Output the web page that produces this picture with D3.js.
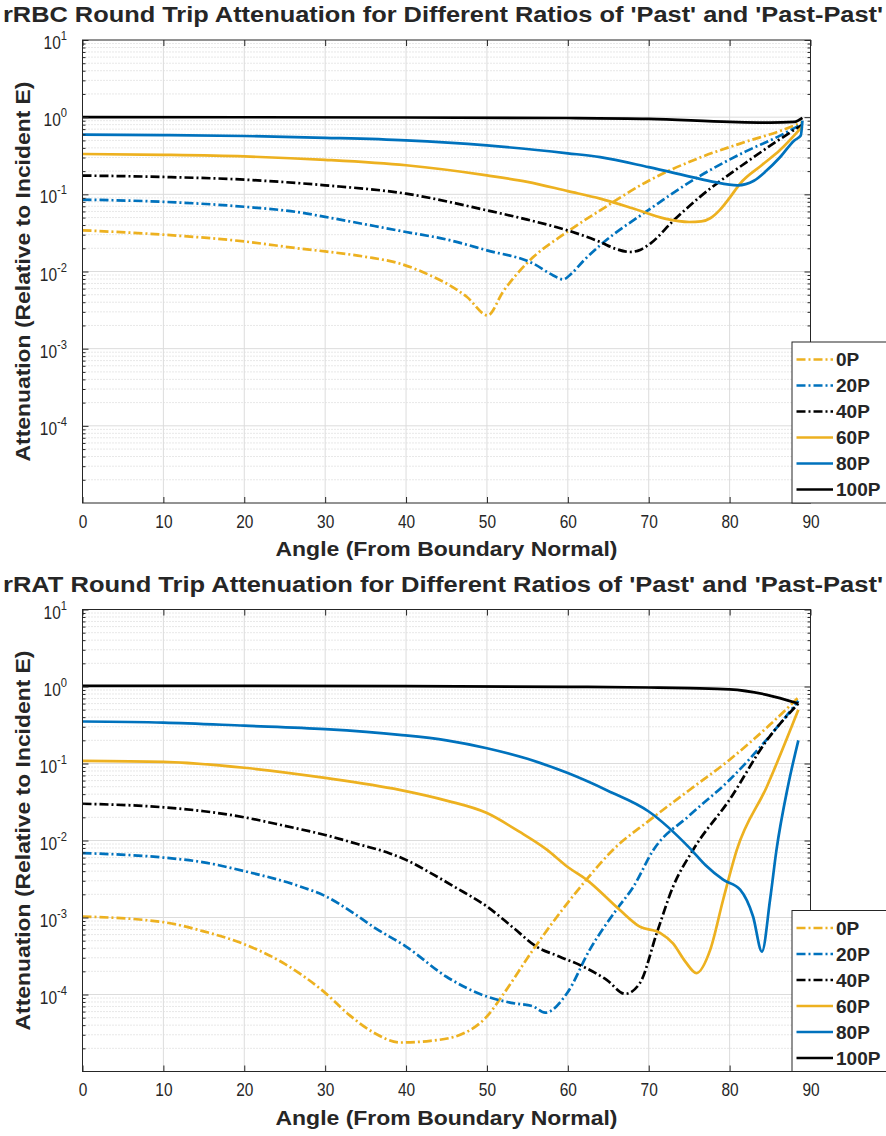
<!DOCTYPE html>
<html>
<head>
<meta charset="utf-8">
<script src="https://cdn.jsdelivr.net/npm/d3@7"></script>
<style>
  body { margin: 0; background: #fff; }
  svg { display: block; }
  text { font-family: "Liberation Sans", Arial, Helvetica, sans-serif; fill: #262626; }
</style>
</head>
<body>
<svg id="chart" width="886" height="1136"></svg>
<script>
// ---- series definitions ----
const seriesNames  = ["0P", "20P", "40P", "60P", "80P", "100P"];
const seriesColors = ["#EDB120", "#0072BD", "#000000", "#EDB120", "#0072BD", "#000000"];
const seriesDashed = [true, true, true, false, false, false];

// ---- axis ticks ----
const xTicks = [0, 10, 20, 30, 40, 50, 60, 70, 80, 90];
const yTickExponents = [1, 0, -1, -2, -3, -4];

// ---- rRBC round trip attenuation (angle in degrees, attenuation) ----
const rbcAngle0P   = [0, 10, 20, 26.9, 30, 35, 39.2, 43.4, 45, 47.5, 50.1, 52, 54.9, 60, 64, 70, 76, 82, 86, 89];
const rbcValue0P   = [0.0342, 0.0300, 0.0245, 0.0198, 0.0182, 0.0155, 0.0127, 0.0085, 0.0070, 0.0047, 0.0027, 0.0055, 0.0127, 0.033, 0.062, 0.15, 0.29, 0.48, 0.65, 0.86];
const rbcAngle20P  = [0, 10, 20, 27, 30, 40, 45, 50, 55.7, 58.2, 59.4, 60.5, 62, 64, 70, 76, 82, 86, 89];
const rbcValue20P  = [0.0853, 0.080, 0.069, 0.058, 0.051, 0.0325, 0.026, 0.0188, 0.0127, 0.0089, 0.0079, 0.0095, 0.0140, 0.0219, 0.063, 0.165, 0.36, 0.56, 0.82];
const rbcAngle40P  = [0, 10, 20, 30, 40, 50, 55, 60, 64, 66, 67.7, 69, 70.2, 73, 76.3, 82.4, 86, 89];
const rbcValue40P  = [0.175, 0.168, 0.155, 0.131, 0.102, 0.062, 0.047, 0.034, 0.0241, 0.0195, 0.0179, 0.0192, 0.023, 0.045, 0.092, 0.275, 0.5, 0.8];
const rbcAngle60P  = [0, 10, 20, 30, 40, 50, 55, 60, 64, 68, 72, 75, 76.5, 77.6, 78.8, 80, 81.3, 84, 86.2, 89];
const rbcValue60P  = [0.333, 0.325, 0.31, 0.28, 0.238, 0.176, 0.145, 0.11, 0.088, 0.066, 0.0484, 0.0438, 0.0445, 0.049, 0.063, 0.09, 0.138, 0.24, 0.372, 0.76];
const rbcAngle80P  = [0, 10, 20, 30, 40, 50, 60, 64, 70, 75.5, 78, 81, 83, 84.5, 86.2, 88, 88.8, 89];
const rbcValue80P  = [0.593, 0.585, 0.57, 0.54, 0.50, 0.43, 0.34, 0.304, 0.225, 0.166, 0.145, 0.131, 0.15, 0.2, 0.3, 0.5, 0.58, 0.9];
const rbcAngle100P = [0, 20, 40, 60, 70, 80, 85, 88, 89];
const rbcValue100P = [1.0, 0.998, 0.99, 0.975, 0.95, 0.87, 0.85, 0.87, 0.98];

// ---- rRAT round trip attenuation (angle in degrees, attenuation) ----
const ratAngle0P   = [0, 10, 15, 20, 25, 30, 33, 36, 39.3, 43, 46.7, 50, 52, 55.7, 59, 62.3, 65.6, 70, 75, 80, 85, 88.5];
const ratValue0P   = [1.03e-3, 8.7e-4, 6.6e-4, 4.5e-4, 2.5e-4, 1.05e-4, 5.4e-5, 3.2e-5, 2.38e-5, 2.5e-5, 3.0e-5, 5.2e-5, 1.0e-4, 3.8e-4, 1.14e-3, 3.1e-3, 7.6e-3, 0.018, 0.045, 0.112, 0.32, 0.72];
const ratAngle20P  = [0, 10, 15, 20, 26.9, 30, 33.5, 36, 40, 45, 50, 53, 55.7, 57.2, 59.9, 62.7, 66, 68.1, 70.6, 75, 80, 85, 88.5];
const ratValue20P  = [6.86e-3, 6.0e-3, 5.2e-3, 4.0e-3, 2.53e-3, 1.9e-3, 1.14e-3, 7.5e-4, 4.2e-4, 1.7e-4, 9.4e-5, 7.8e-5, 7.0e-5, 5.8e-5, 1.04e-4, 3.8e-4, 1.26e-3, 2.5e-3, 7.6e-3, 0.021, 0.0614, 0.23, 0.65];
const ratAngle40P  = [0, 10, 15, 20, 25, 30, 34, 38, 40, 43.4, 46, 50, 53.3, 56.1, 59, 61.9, 64.8, 67.1, 68.9, 71, 73, 75.5, 80, 84.6, 88.5];
const ratValue40P  = [0.030, 0.027, 0.024, 0.020, 0.0155, 0.0118, 9.0e-3, 6.8e-3, 5.6e-3, 3.6e-3, 2.5e-3, 1.39e-3, 7.3e-4, 4.2e-4, 3.1e-4, 2.3e-4, 1.55e-4, 1.02e-4, 1.4e-4, 6.3e-4, 2.5e-3, 7.6e-3, 0.034, 0.2, 0.6];
const ratAngle60P  = [0, 10, 20, 30, 39.2, 45, 50, 54, 57.4, 59.9, 62.3, 66.4, 68.9, 71.4, 73, 74.5, 75.9, 77.6, 79.2, 80.9, 84.6, 88.5];
const ratValue60P  = [0.108, 0.105, 0.088, 0.065, 0.0455, 0.033, 0.0227, 0.013, 7.6e-3, 4.6e-3, 3.1e-3, 1.26e-3, 7.6e-4, 6.3e-4, 4.6e-4, 2.7e-4, 1.9e-4, 3.8e-4, 1.7e-3, 7.6e-3, 0.05, 0.5];
const ratAngle80P  = [0, 10, 20, 30, 39.2, 45, 50, 55, 60, 65, 70, 75.1, 77, 79.2, 81.3, 82.9, 84, 85, 85.8, 87.2, 88.5];
const ratValue80P  = [0.351, 0.34, 0.31, 0.28, 0.236, 0.2, 0.158, 0.115, 0.075, 0.044, 0.0238, 7.9e-3, 4.8e-3, 3.1e-3, 2.3e-3, 1.03e-3, 3.6e-4, 1.7e-3, 7.6e-3, 0.05, 0.2];
const ratAngle100P = [0, 20, 40, 60, 70, 75, 80, 84.6, 88.5];
const ratValue100P = [1.02, 1.02, 1.01, 0.99, 0.97, 0.95, 0.92, 0.78, 0.6];

// ---- titles ----
const rbcTitle = "rRBC Round Trip Attenuation for Different Ratios of 'Past' and 'Past-Past'";
const ratTitle = "rRAT Round Trip Attenuation for Different Ratios of 'Past' and 'Past-Past'";
const xLabel = "Angle (From Boundary Normal)";
const yLabel = "Attenuation (Relative to Incident E)";

const zip = (a, v) => a.map((d, i) => [d, v[i]]);
const rbcSeries = [
  zip(rbcAngle0P, rbcValue0P), zip(rbcAngle20P, rbcValue20P), zip(rbcAngle40P, rbcValue40P),
  zip(rbcAngle60P, rbcValue60P), zip(rbcAngle80P, rbcValue80P), zip(rbcAngle100P, rbcValue100P)
];
const ratSeries = [
  zip(ratAngle0P, ratValue0P), zip(ratAngle20P, ratValue20P), zip(ratAngle40P, ratValue40P),
  zip(ratAngle60P, ratValue60P), zip(ratAngle80P, ratValue80P), zip(ratAngle100P, ratValue100P)
];

const svg = d3.select("#chart");
const AX_LEFT = 82.5, AX_RIGHT = 810.5;
const DASH = "9,3,2,3";
const LINE_W = 2.7;
const NARROW = 0.86;   // horizontal squeeze for tick labels

function drawPanel(id, title, series, top, bottom) {
  const g = svg.append("g").attr("id", id);
  const x = d3.scaleLinear().domain([0, 90]).range([AX_LEFT, AX_RIGHT]);
  const y = d3.scaleLog().domain([1e-5, 10]).range([bottom, top]);

  // minor log values (2..9 x each decade)
  const minor = [];
  for (let k = -5; k <= 0; k++) for (let m = 2; m <= 9; m++) minor.push(m * Math.pow(10, k));
  const major = yTickExponents.map(e => Math.pow(10, e));

  // grid
  const grid = g.append("g");
  grid.selectAll(".ymin").data(minor).join("line")
    .attr("x1", AX_LEFT).attr("x2", AX_RIGHT)
    .attr("y1", d => y(d)).attr("y2", d => y(d))
    .attr("stroke", "#d0d0d0").attr("stroke-width", 1).attr("stroke-dasharray", "1,2");
  grid.selectAll(".ymaj").data(major.filter(v => v < 10)).join("line")
    .attr("x1", AX_LEFT).attr("x2", AX_RIGHT)
    .attr("y1", d => y(d)).attr("y2", d => y(d))
    .attr("stroke", "#dcdcdc").attr("stroke-width", 1);
  grid.selectAll(".xmaj").data(xTicks.filter(v => v > 0 && v < 90)).join("line")
    .attr("y1", top).attr("y2", bottom)
    .attr("x1", d => x(d)).attr("x2", d => x(d))
    .attr("stroke", "#dcdcdc").attr("stroke-width", 1);

  // curves
  const clipId = id + "-clip";
  g.append("clipPath").attr("id", clipId).append("rect")
    .attr("x", AX_LEFT).attr("y", top).attr("width", AX_RIGHT - AX_LEFT).attr("height", bottom - top);
  const line = d3.line().x(d => x(d[0])).y(d => y(d[1])).curve(d3.curveMonotoneX);
  const curves = g.append("g").attr("clip-path", `url(#${clipId})`);
  series.forEach((s, i) => {
    curves.append("path").datum(s)
      .attr("d", line)
      .attr("fill", "none")
      .attr("stroke", seriesColors[i])
      .attr("stroke-width", LINE_W)
      .attr("stroke-linejoin", "round")
      .attr("stroke-dasharray", seriesDashed[i] ? DASH : null);
  });

  // axes (ticks point inward, box style)
  const axisStyle = sel => {
    sel.select(".domain").remove();
    sel.selectAll(".tick line").attr("stroke", "#262626");
  };
  const xb = g.append("g").attr("transform", `translate(0,${bottom})`)
    .call(d3.axisBottom(x).tickValues(xTicks).tickSizeInner(-6).tickSizeOuter(0).tickPadding(12).tickFormat(d3.format("d")));
  axisStyle(xb);
  xb.selectAll(".tick text").attr("font-size", 18).attr("fill", "#262626")
    .attr("transform", `scale(${NARROW},1)`)
    .style("font-family", "'Liberation Sans', Arial, sans-serif");
  const xt = g.append("g").attr("transform", `translate(0,${top})`)
    .call(d3.axisTop(x).tickValues(xTicks).tickSizeInner(-6).tickSizeOuter(0).tickFormat(""));
  axisStyle(xt);

  const yl = g.append("g").attr("transform", `translate(${AX_LEFT},0)`)
    .call(d3.axisLeft(y).tickValues(major).tickSizeInner(-6).tickSizeOuter(0).tickFormat(""));
  axisStyle(yl);
  const ylm = g.append("g").attr("transform", `translate(${AX_LEFT},0)`)
    .call(d3.axisLeft(y).tickValues(minor).tickSizeInner(-3).tickSizeOuter(0).tickFormat(""));
  axisStyle(ylm);
  const yr = g.append("g").attr("transform", `translate(${AX_RIGHT},0)`)
    .call(d3.axisRight(y).tickValues(major).tickSizeInner(-6).tickSizeOuter(0).tickFormat(""));
  axisStyle(yr);
  const yrm = g.append("g").attr("transform", `translate(${AX_RIGHT},0)`)
    .call(d3.axisRight(y).tickValues(minor).tickSizeInner(-3).tickSizeOuter(0).tickFormat(""));
  axisStyle(yrm);

  // y tick labels with superscript exponents
  yTickExponents.forEach(e => {
    const ty = y(Math.pow(10, e));
    const t = g.append("text")
      .attr("transform", `translate(67,${ty + 9}) scale(${NARROW},1)`)
      .attr("text-anchor", "end").attr("font-size", 18);
    t.append("tspan").text("10");
    t.append("tspan").attr("font-size", 13).attr("dy", -9).text(String(e));
  });

  // box
  g.append("rect")
    .attr("x", AX_LEFT).attr("y", top)
    .attr("width", AX_RIGHT - AX_LEFT).attr("height", bottom - top)
    .attr("fill", "none").attr("stroke", "#262626").attr("stroke-width", 1);

  // title and axis labels
  g.append("text")
    .attr("x", 3).attr("y", top - 18)
    .attr("font-size", 22).attr("font-weight", "bold").attr("fill", "#000")
    .attr("textLength", 880).attr("lengthAdjust", "spacingAndGlyphs")
    .text(title);
  g.append("text")
    .attr("x", (AX_LEFT + AX_RIGHT) / 2).attr("y", bottom + 53)
    .attr("text-anchor", "middle")
    .attr("font-size", 21).attr("font-weight", "bold")
    .attr("textLength", 342).attr("lengthAdjust", "spacingAndGlyphs")
    .text(xLabel);
  g.append("text")
    .attr("transform", `translate(30,${(top + bottom) / 2}) rotate(-90)`)
    .attr("text-anchor", "middle")
    .attr("font-size", 21).attr("font-weight", "bold")
    .attr("textLength", 380).attr("lengthAdjust", "spacingAndGlyphs")
    .text(yLabel);

  // legend
  const lg = g.append("g").attr("transform", `translate(792,${bottom - 161})`);
  lg.append("rect").attr("x", 0).attr("y", 0).attr("width", 110).attr("height", 161)
    .attr("fill", "#fff").attr("stroke", "#262626").attr("stroke-width", 1);
  seriesNames.forEach((name, i) => {
    const ly = 17.5 + i * 26;
    lg.append("line")
      .attr("x1", 4.5).attr("x2", 41).attr("y1", ly).attr("y2", ly)
      .attr("stroke", seriesColors[i]).attr("stroke-width", LINE_W)
      .attr("stroke-dasharray", seriesDashed[i] ? DASH : null);
    lg.append("text")
      .attr("x", 44).attr("y", ly + 6.5)
      .attr("font-size", 19).attr("font-weight", "bold").attr("fill", "#000")
      .text(name);
  });
}

drawPanel("rbc", rbcTitle, rbcSeries, 40, 503);
drawPanel("rat", ratTitle, ratSeries, 609.5, 1071.5);
</script>
</body>
</html>
